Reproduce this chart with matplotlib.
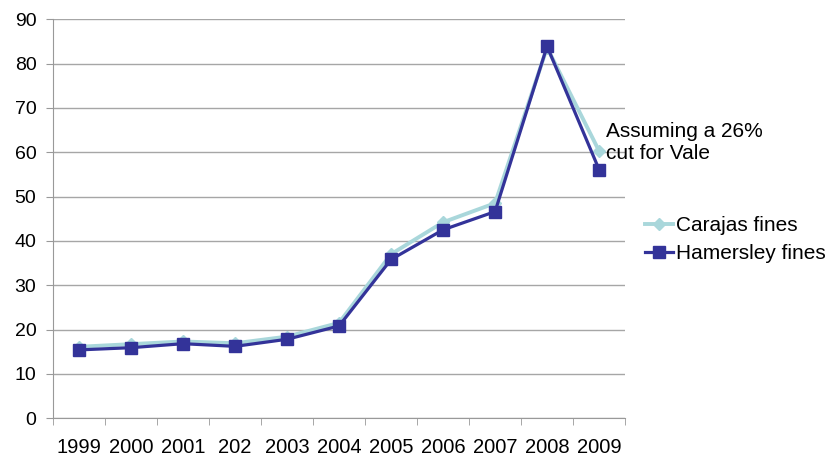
import matplotlib.pyplot as plt
import numpy as np

plt.rcParams['font.family'] = ['Liberation Sans', 'DejaVu Sans']

# 数据
years = ['1999', '2000', '2001', '202', '2003', '2004', '2005', '2006', '2007', '2008', '2009']
carajas = [16.1, 16.7, 17.3, 16.9, 18.4, 21.5, 37.0, 44.2, 48.5, 83.6, 60.3]
hamersley = [15.4, 15.9, 16.8, 16.2, 17.8, 20.8, 35.8, 42.5, 46.6, 83.9, 56.1]

fig = plt.figure(figsize=(8.29, 4.59), dpi=100)
ax = fig.add_axes([0.064, 0.089, 0.690, 0.869])

x = np.arange(len(years))
ax.plot(x, carajas, color='#A9D7DB', lw=2.8, marker='D', ms=6.5,
        label='Carajas fines', zorder=3)
ax.plot(x, hamersley, color='#333399', lw=2.3, marker='s', ms=8.5,
        label='Hamersley fines', zorder=4)

ax.set_xlim(-0.5, len(years) - 0.5)
ax.set_ylim(0, 90)
ax.set_yticks(range(0, 91, 10))
ax.set_xticks(x)
ax.set_xticklabels(years)
ax.set_xticks(np.arange(-0.5, len(years), 1), minor=True)
ax.tick_params(axis='x', which='major', length=0, pad=14, labelsize=14.5)
ax.tick_params(axis='x', which='minor', length=5, color='#999999', direction='out')
ax.tick_params(axis='y', length=5, color='#999999', labelsize=14, pad=7)

ax.grid(axis='y', color='#A6A6A6', lw=1)
ax.set_axisbelow(True)
for s in ['top', 'right']:
    ax.spines[s].set_visible(False)
for s in ['left', 'bottom']:
    ax.spines[s].set_color('#999999')

fig.text(0.731, 0.6895, 'Assuming a 26%\ncut for Vale',
         fontsize=15, va='center', ha='left', linespacing=1.2)

fig.legend(loc='center left', bbox_to_anchor=(0.778, 0.478), frameon=False,
           fontsize=15, handlelength=1.35, handletextpad=0.15, labelspacing=0.45,
           borderpad=0, borderaxespad=0)

fig.savefig('out.png', dpi=100)
